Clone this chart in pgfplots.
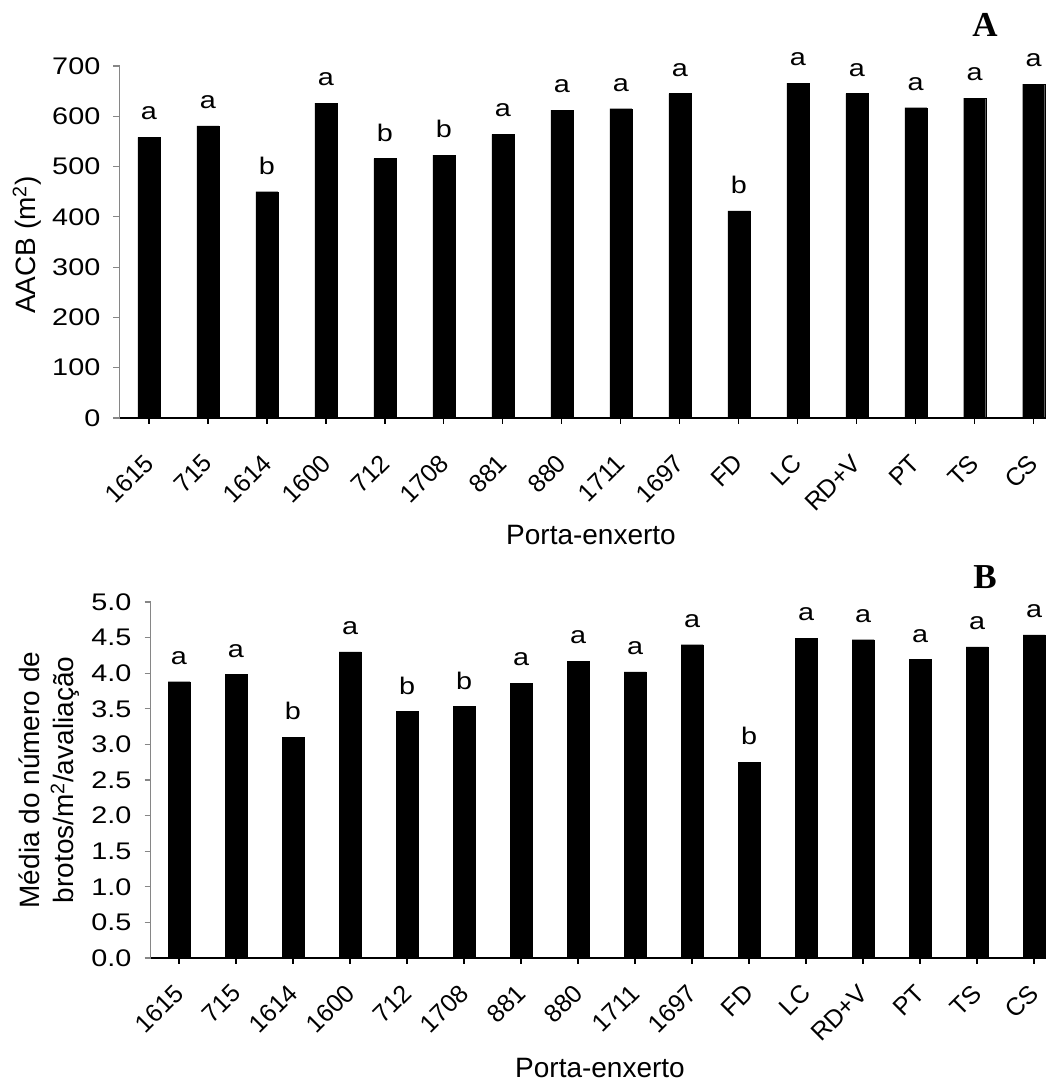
\documentclass[border=0pt]{standalone}
\usepackage{pgfplots}
\pgfplotsset{compat=1.18}
\usepackage{fontspec}
\setmainfont{Liberation Sans}
\newfontfamily\libserif{Liberation Serif}
\newfontfamily\widesans{Liberation Sans}[FakeStretch=1.2]
\definecolor{axgray}{HTML}{868686}

\pgfplotstableread{
x y l
0 558 a
1 581 a
2 450 b
3 626 a
4 516 b
5 523 b
6 564 a
7 612 a
8 615 a
9 645 a
10 412 b
11 666 a
12 645 a
13 617 a
14 636 a
15 664 a
}\tabA

\pgfplotstableread{
x y l
0 3.88 a
1 3.98 a
2 3.10 b
3 4.30 a
4 3.46 b
5 3.53 b
6 3.86 a
7 4.17 a
8 4.02 a
9 4.40 a
10 2.75 b
11 4.49 a
12 4.47 a
13 4.19 a
14 4.37 a
15 4.54 a
}\tabB

\pgfplotsset{
  mybar/.style={
    scale only axis,
    anchor=south west,
    axis x line=bottom,
    axis y line=left,
    axis line style={-},
    x axis line style={black, line width=1.2bp},
    y axis line style={axgray, line width=1.2bp},
    xmin=-0.5,
    xtick={0,...,15},
    xticklabels={1615,715,1614,1600,712,1708,881,880,1711,1697,FD,LC,RD+V,PT,TS,CS},
    tick align=outside,
    major tick length=6bp,
    x tick style={black, line width=1.2bp},
    y tick style={axgray, line width=1.2bp},
    xticklabel style={font=\fontsize{25bp}{28bp}\selectfont},
    yticklabel style={font=\fontsize{24bp}{28bp}\widesans, inner sep=0pt, xshift=-13bp},
    /pgf/number format/assume math mode=true,
    clip=false,
    nodes near coords,
    point meta=explicit symbolic,
    nodes near coords style={anchor=south, inner sep=0pt, yshift=17bp, font=\fontsize{24bp}{28bp}\widesans, black},
  }
}

\begin{document}
\begin{tikzpicture}[x=1bp,y=1bp]
\useasboundingbox (0bp,0bp) rectangle (1054bp,1087bp);

% Top chart (A)
\begin{axis}[mybar,
  at={(119.5bp,669bp)},
  width=926bp, height=352bp,
  xmax=15.2,
  ymin=0, ymax=700,
  ytick={0,100,...,700},
  xticklabel style={inner sep=0pt, yshift=-35bp, rotate=45, anchor=east},
]
\addplot[ybar, bar width=22bp, fill=black, draw=black] table[x=x, y=y, meta=l] {\tabA};
\end{axis}

% Bottom chart (B)
\begin{axis}[mybar,
  at={(150.5bp,129bp)},
  width=895.5bp, height=356bp,
  xmax=15.21,
  ymin=0, ymax=5,
  ytick={0,0.5,...,5.0},
  yticklabel style={/pgf/number format/fixed, /pgf/number format/fixed zerofill, /pgf/number format/precision=1},
  xticklabel style={inner sep=0pt, yshift=-25bp, rotate=45, anchor=east},
]
\addplot[ybar, bar width=22bp, fill=black, draw=black] table[x=x, y=y, meta=l] {\tabB};
\end{axis}

% Axis titles
\node[rotate=90, font=\fontsize{28bp}{34bp}\selectfont] at (27bp,842bp) {AACB (m\textsuperscript{2})};
\node[anchor=base, font=\fontsize{28bp}{34bp}\selectfont] at (591bp,542bp) {Porta-enxerto};
\node[rotate=90, align=center, font=\fontsize{28bp}{34bp}\selectfont] at (49bp,307bp) {Média do número de\\brotos/m\textsuperscript{2}/avaliação};
\node[anchor=base, font=\fontsize{28bp}{34bp}\selectfont] at (600bp,10bp) {Porta-enxerto};

% Panel letters
\node[font=\fontsize{35bp}{40bp}\libserif\bfseries] at (985bp,1062bp) {A};
\node[font=\fontsize{35bp}{40bp}\libserif\bfseries] at (985bp,510bp) {B};
\end{tikzpicture}
\end{document}
